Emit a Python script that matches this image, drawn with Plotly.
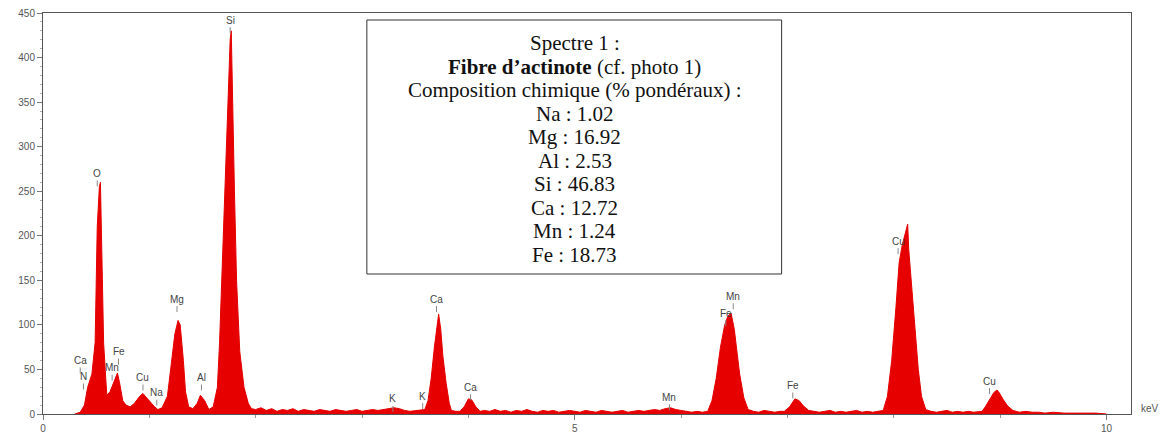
import plotly.graph_objects as go

# Spectrum outline: energy (keV) and counts
energy_kev = [
    0.30, 0.35, 0.39, 0.42, 0.46, 0.49, 0.51, 0.53, 0.54, 0.55, 0.56, 0.57, 0.59, 0.60,
    0.63, 0.66, 0.70, 0.72, 0.75, 0.78, 0.82, 0.86, 0.91, 0.94, 0.98, 1.02, 1.05, 1.08,
    1.12, 1.17, 1.20, 1.24, 1.27, 1.29, 1.32, 1.34, 1.37, 1.41, 1.45, 1.48, 1.52, 1.56,
    1.60, 1.64, 1.66, 1.69, 1.72, 1.74, 1.76, 1.77, 1.78, 1.80, 1.82, 1.85, 1.89, 1.93,
    1.96, 2.00, 2.05, 2.10, 2.15, 2.20, 2.25, 2.30, 2.35, 2.40, 2.45, 2.50, 2.55, 2.60,
    2.65, 2.70, 2.75, 2.80, 2.85, 2.90, 2.95, 3.00, 3.05, 3.10, 3.15, 3.20, 3.25, 3.30,
    3.35, 3.40, 3.45, 3.50, 3.55, 3.59, 3.62, 3.65, 3.68, 3.71, 3.72, 3.74, 3.76, 3.79,
    3.82, 3.84, 3.88, 3.92, 3.96, 4.00, 4.03, 4.07, 4.11, 4.15, 4.20, 4.25, 4.30, 4.35,
    4.40, 4.45, 4.50, 4.55, 4.60, 4.65, 4.70, 4.75, 4.80, 4.85, 4.90, 4.95, 5.00, 5.05,
    5.10, 5.15, 5.20, 5.25, 5.30, 5.35, 5.40, 5.45, 5.50, 5.55, 5.60, 5.65, 5.70, 5.75,
    5.80, 5.85, 5.90, 5.95, 6.00, 6.05, 6.10, 6.15, 6.20, 6.25, 6.29, 6.33, 6.37, 6.41,
    6.44, 6.47, 6.50, 6.52, 6.55, 6.59, 6.63, 6.68, 6.73, 6.78, 6.83, 6.88, 6.93, 6.97,
    7.02, 7.07, 7.11, 7.15, 7.20, 7.25, 7.30, 7.35, 7.40, 7.45, 7.50, 7.55, 7.60, 7.65,
    7.70, 7.75, 7.80, 7.85, 7.90, 7.94, 7.98, 8.02, 8.05, 8.08, 8.11, 8.13, 8.14, 8.17,
    8.20, 8.23, 8.26, 8.30, 8.35, 8.40, 8.45, 8.50, 8.55, 8.60, 8.65, 8.70, 8.75, 8.80,
    8.83, 8.86, 8.90, 8.94, 8.97, 8.99, 9.03, 9.07, 9.12, 9.18, 9.24, 9.30, 9.36, 9.42,
    9.50, 9.60, 9.70, 9.80, 9.90, 10.00,
]
counts = [
    0, 2, 10, 30, 45, 80, 210, 255, 260, 200, 130, 80, 40, 21,
    25, 35, 46, 35, 15, 10, 8, 12, 20, 23, 17, 12, 8, 5,
    7, 20, 50, 90, 105, 100, 60, 25, 8, 6, 12, 21, 15, 5,
    8, 30, 80, 180, 300, 360, 420, 430, 360, 250, 150, 70, 30, 12,
    6, 5, 7, 4, 6, 3, 5, 4, 6, 3, 5, 4, 3, 5,
    4, 3, 5, 4, 3, 4, 5, 3, 4, 5, 4, 5, 6, 7,
    6, 4, 3, 4, 5, 5, 15, 40, 75, 105, 112, 95, 65, 35,
    12, 4, 3, 3, 8, 17, 16, 8, 3, 4, 3, 5, 3, 4,
    2, 4, 3, 5, 3, 2, 4, 3, 4, 2, 3, 4, 3, 2,
    4, 3, 2, 4, 3, 2, 3, 4, 2, 3, 4, 3, 4, 5,
    4, 6, 7, 5, 4, 3, 2, 3, 2, 3, 15, 40, 75, 100,
    110, 113, 95, 75, 45, 18, 5, 3, 2, 4, 3, 2, 3, 3,
    8, 17, 15, 9, 4, 3, 2, 3, 4, 2, 3, 2, 3, 4,
    2, 3, 2, 3, 4, 20, 60, 120, 170, 190, 205, 213, 185, 140,
    90, 50, 20, 5, 3, 2, 3, 4, 2, 3, 2, 3, 2, 3,
    3, 8, 16, 24, 27, 24, 16, 9, 4, 2, 3, 2, 2, 1,
    2, 1, 1, 1, 1, 0,
]

# Peak labels: element, energy (keV), label height (counts)
peak_labels = ["O", "Si", "Ca", "N", "Fe", "Mn", "Cu", "Na", "Mg", "Al", "K", "K",
               "Ca", "Ca", "Mn", "Mn", "Fe", "Fe", "Cu", "Cu"]
peak_label_kev = [0.51, 1.76, 0.35, 0.38, 0.71, 0.65, 0.94, 1.07, 1.26, 1.49, 3.29, 3.57,
                  3.70, 4.02, 5.89, 6.49, 6.42, 7.05, 8.04, 8.90]
peak_label_cts = [270, 442, 60, 42, 70, 52, 41, 24, 129, 41, 17, 20,
                  129, 30, 19, 132, 113, 32, 194, 37]

# Composition text
comp_elements = ["Na", "Mg", "Al", "Si", "Ca", "Mn", "Fe"]
comp_values = ["1.02", "16.92", "2.53", "46.83", "12.72", "1.24", "18.73"]

y_ticks = [0, 50, 100, 150, 200, 250, 300, 350, 400, 450]
x_ticks = [0, 5, 10]

fig = go.Figure()
fig.add_trace(go.Scatter(
    x=energy_kev, y=counts, mode="lines", fill="tozeroy",
    line=dict(color="#e60000", width=1), fillcolor="#e60000",
    showlegend=False, hoverinfo="skip",
))

# plot area: 0 count at page y=414, 450 at y=13
PLOT_TOP, PLOT_BOTTOM = 13, 414
CPP = 450 / (PLOT_BOTTOM - PLOT_TOP)  # counts per pixel

def page_y_to_counts(py):
    return (PLOT_BOTTOM - py) * CPP

for lab, xk, yc in zip(peak_labels, peak_label_kev, peak_label_cts):
    fig.add_annotation(x=xk, y=yc, text=lab, showarrow=False,
                       font=dict(family="Liberation Sans, Arial", size=10, color="#444"),
                       xanchor="center", yanchor="middle")
    # small marker line under each label
    fig.add_shape(type="line", x0=xk, x1=xk, y0=yc - 13 * CPP, y1=yc - 7 * CPP,
                  line=dict(color="#888", width=1))

lines = ["Spectre 1 :", "<b>Fibre d\u2019actinote</b> (cf. photo 1)",
         "Composition chimique (% pond\u00e9raux) :"]
lines += [f"{e} : {v}" for e, v in zip(comp_elements, comp_values)]

for i, ln in enumerate(lines):
    fig.add_annotation(x=5.0, y=page_y_to_counts(43 + 23.5 * i), text=ln, showarrow=False,
                       xanchor="center", yanchor="middle",
                       font=dict(family="Liberation Serif, Times New Roman", size=21, color="#111"))
fig.add_shape(type="rect", x0=3.045, x1=6.945, y0=page_y_to_counts(274), y1=page_y_to_counts(20),
              line=dict(color="#333", width=1), fillcolor="rgba(0,0,0,0)")

fig.add_annotation(xref="paper", yref="paper", x=1.0, y=0, xshift=19, yshift=6,
                   xanchor="center", yanchor="middle",
                   text="keV", showarrow=False,
                   font=dict(family="Liberation Sans, Arial", size=10, color="#555"))

fig.update_xaxes(range=[0, 10.23], tickvals=x_ticks, ticktext=[str(t) for t in x_ticks],
                 showgrid=False, zeroline=False, showline=True, linecolor="#555",
                 mirror=True, ticks="outside", ticklen=5, tickcolor="#777", automargin=False,
                 ticklabeloverflow="allow",
                 minor=dict(dtick=1, ticks="outside", ticklen=3, tickcolor="#999"),
                 tickfont=dict(family="Liberation Sans, Arial", size=10, color="#555"))
fig.update_yaxes(range=[0, 450], tickvals=y_ticks, showgrid=False, zeroline=False,
                 showline=True, linecolor="#555", mirror=True, ticks="outside",
                 ticklen=5, tickcolor="#777", automargin=False,
                 ticklabeloverflow="allow",
                 minor=dict(dtick=10, ticks="outside", ticklen=2, tickcolor="#aaa"),
                 tickfont=dict(family="Liberation Sans, Arial", size=10, color="#555"))
# page has an 8px body margin: figure starts at page (8, 8)
fig.update_layout(width=1160, height=427,
                  margin=dict(l=35, r=37, t=PLOT_TOP - 8, b=427 - (PLOT_BOTTOM - 8)),
                  plot_bgcolor="white", paper_bgcolor="white")
fig.write_html("out.html")
